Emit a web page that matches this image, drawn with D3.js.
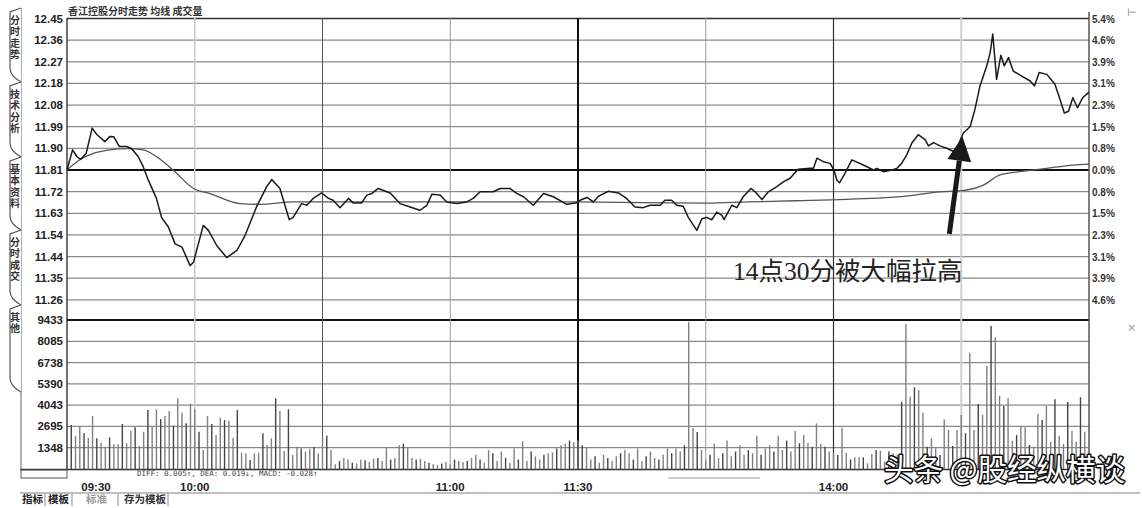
<!DOCTYPE html>
<html><head><meta charset="utf-8">
<script src="https://cdn.jsdelivr.net/npm/d3@7"></script>
<style>body{margin:0;background:#fff}svg{display:block}</style>
</head><body><svg id="c" width="1142" height="508"></svg>
<script>
// ---------- data ----------
const title = "香江控股分时走势 均线 成交量";
const prevClose = 11.81;
const priceTimes = [0,1.3,2.3,3.2,4.5,5.9,7,8.9,10.1,11,12.3,14,15.2,16.7,17.9,19.1,21,22.2,23.8,25.4,27,28.9,29.7,32,33.2,35.2,37.5,39.9,41.8,44.5,46.9,48.1,50,52.2,53.1,55.1,56.3,57.8,59.8,61.4,
62.5,64.1,66.1,67.2,69.2,70.4,71.6,73.1,75.9,78.2,80.6,82.9,84.5,85.7,87.6,89.2,91.5,93.9,95.4,97,100.1,101.7,104,105.6,107.2,109.5,111.9,114.2,117.4,119.7,
120.5,122.1,123.6,124.8,127.1,129.5,131.4,133.4,135.3,136.9,139.3,140.4,142,143.2,144.7,145.9,147.9,149.1,150.2,151.4,152.6,153.8,154.3,156.1,157.3,158.8,160.6,161.6,163.2,164.7,166.7,168.2,169.8,171.7,174.5,175.3,176.1,177.6,179.2,180.1,180.8,181.4,182.7,184.3,187,189.4,190.2,191.7,193.7,194.9,196,197.2,198.4,199.9,201.5,202.3,203.5,205,206.6,208.2,209.3,210.5,212.1,213.2,214.4,216,216.8,217.4,218.3,219.3,220.1,221.1,222.2,224.2,226.2,227.2,228.3,230.1,232,233.2,234.2,235.2,236.2,237.3,238.5,240];
const priceValues = [11.81,11.895,11.867,11.855,11.88,11.987,11.96,11.93,11.952,11.95,11.909,11.909,11.90,11.867,11.824,11.767,11.69,11.61,11.569,11.498,11.484,11.406,11.42,11.576,11.555,11.49,11.44,11.47,11.533,11.654,11.74,11.77,11.732,11.60,11.61,11.668,11.661,11.69,11.713,11.69,
11.682,11.651,11.69,11.671,11.671,11.704,11.711,11.732,11.713,11.668,11.654,11.64,11.661,11.708,11.704,11.675,11.668,11.675,11.69,11.718,11.718,11.732,11.732,11.711,11.697,11.661,11.711,11.697,11.665,11.672,
11.682,11.694,11.675,11.699,11.72,11.713,11.69,11.654,11.651,11.661,11.661,11.682,11.682,11.661,11.657,11.61,11.555,11.604,11.61,11.60,11.632,11.618,11.60,11.661,11.651,11.697,11.732,11.718,11.685,11.718,11.74,11.76,11.775,11.813,11.817,11.817,11.86,11.845,11.838,11.81,11.767,11.756,11.796,11.853,11.831,11.81,11.817,11.803,11.81,11.817,11.838,11.874,11.924,11.959,11.938,11.912,11.926,11.912,11.902,11.888,11.916,11.966,11.994,12.065,12.165,12.25,12.307,12.385,12.193,12.295,12.25,12.285,12.228,12.207,12.186,12.165,12.222,12.214,12.172,12.108,12.051,12.058,12.115,12.073,12.115,12.139];
const avgTimes = [0,3,6.2,10.1,14,17.9,21,24.9,29.7,33.6,40.6,45.3,53.1,61,120,150,160,171,183,197,205,209.7,215.2,219.1,223.8,230,236.3,240];
const avgValues = [11.81,11.853,11.88,11.895,11.90,11.895,11.867,11.81,11.732,11.71,11.668,11.665,11.675,11.675,11.675,11.67,11.675,11.68,11.686,11.70,11.718,11.722,11.746,11.789,11.803,11.817,11.831,11.835];
// per-minute volume, minutes 1..240
const volumes = [2785,2090,2720,2260,1980,3355,1940,1665,1410,2005,
1560,1560,2850,1625,2425,2640,1455,2360,3735,2720,
3780,3165,3355,3670,2740,4475,3565,2890,4150,3780,
2360,1200,3355,2850,2150,3250,3100,3060,1980,3735,
1030,990,570,990,1030,2260,1520,1940,4475,3670,
1140,3780,885,1410,
1300,1100,1250,1400,1000,2000,2100,1200,
300,500,700,600,400,350,600,550,450,650,700,500,
1400,600,700,1500,1600,1400,
700,600,650,500,400,300,250,350,450,300,
600,500,450,500,700,900,600,400,1200,1000,
500,1100,700,400,1300,600,1750,500,1100,800,
600,900,1000,1050,1300,1500,1600,1800,1700,1800,
1500,1400,600,800,400,900,700,500,800,1000,
1200,1000,600,1300,500,800,1100,700,600,900,
1300,1000,1300,1100,1500,9300,2600,2350,1200,600,
900,1600,700,1000,1800,800,1100,1500,900,1200,
1000,2100,900,1300,1500,1100,2100,1200,1800,1100,2400,
1625,2150,1665,1410,2890,1580,1410,1100,1000,885,
2615,1030,610,740,740,740,360,950,1200,1160,
465,1100,990,900,4260,9180,4580,5170,5000,3565,
1410,1940,1310,885,3145,2470,1455,2470,3420,2260,
7365,2470,4115,3420,6520,9050,8340,4640,3990,4475,
1790,2150,2720,2640,1520,1410,3480,3100,3990,1730,
4410,2090,1580,4240,2425,1730,4540,2360,1500];
const priceTickLabels = ["12.45","12.36","12.27","12.18","12.08","11.99","11.90","11.81","11.72","11.63","11.54","11.44","11.35","11.26"];
const pctTickLabels = ["5.4%","4.6%","3.9%","3.1%","2.3%","1.5%","0.8%","0.0%","0.8%","1.5%","2.3%","3.1%","3.9%","4.6%"];
const volTickLabels = [9433,8085,6738,5390,4043,2695,1348];
const timeTickMinutes = [0,30,90,120,180];
const timeTickLabels = ["09:30","10:00","11:00","11:30","14:00"];
const gridMinutes = [30,60,90,120,150,180,210];
const tabLabels = ["分时走势","技术分析","基本资料","分时成交","其他"];
const annotation = "14点30分被大幅拉高";
const macdText = "DIFF: 0.005↑, DEA: 0.019↓, MACD: -0.028↑";
const watermark = "头条 @股经纵横谈";

// ---------- scales ----------
const svg = d3.select("#c");
const L = 67, R = 1089;
const x = d3.scaleLinear().domain([0,240]).range([L,R]);
const maxUp = 12.45 - prevClose;
const yP = d3.scaleLinear().domain([prevClose - maxUp, prevClose + maxUp]).range([321.5,18.5]);
const yV = d3.scaleLinear().domain([0,9433]).range([469,320]);
const priceLevels = priceTickLabels.map((d,i)=> prevClose + (7-i)*maxUp/7);

const boldFont = "Arial, 'Liberation Sans', sans-serif";

// ---------- grid ----------
const g = svg.append("g");
g.selectAll("line.hp").data(priceLevels).join("line")
  .attr("x1",L).attr("x2",R).attr("y1",d=>yP(d)).attr("y2",d=>yP(d))
  .attr("stroke",(d,i)=> i===7 ? "#111" : (i===0?"#333":"#8a8a8a"))
  .attr("stroke-width",(d,i)=> i===7 ? 2 : 1.3);
g.selectAll("line.hv").data(volTickLabels).join("line")
  .attr("x1",L).attr("x2",R).attr("y1",d=>yV(d)).attr("y2",d=>yV(d))
  .attr("stroke",(d,i)=> i===0 ? "#111" : "#8a8a8a")
  .attr("stroke-width",(d,i)=> i===0 ? 2 : 1.3);
const vStyle = {30:["#c8c8c8",1.5],60:["#555",1],90:["#999",1],120:["#111",2],150:["#999",1],180:["#333",1.2],210:["#cfcfcf",2]};
g.selectAll("line.v").data(gridMinutes).join("line")
  .attr("x1",d=>x(d)).attr("x2",d=>x(d)).attr("y1",18).attr("y2",469)
  .attr("stroke",d=>vStyle[d][0]).attr("stroke-width",d=>vStyle[d][1]);
g.append("line").attr("x1",L).attr("x2",L).attr("y1",18).attr("y2",470).attr("stroke","#222").attr("stroke-width",1.3);
g.append("line").attr("x1",R).attr("x2",R).attr("y1",12).attr("y2",470).attr("stroke","#555").attr("stroke-width",1.5);
g.append("line").attr("x1",20).attr("x2",R).attr("y1",469.5).attr("y2",469.5).attr("stroke","#333").attr("stroke-width",1.5);

// ---------- volume bars ----------
svg.append("g").selectAll("line").data(volumes).join("line")
  .attr("x1",(d,i)=>x(i+1)).attr("x2",(d,i)=>x(i+1))
  .attr("y1",yV(0)).attr("y2",d=>yV(d))
  .attr("stroke",(d,i)=> i%3===0 ? "#444" : "#808080").attr("stroke-width",1.4);

// ---------- lines ----------
const avgData = avgTimes.map((t,i)=>[t,avgValues[i]]);
const priceData = priceTimes.map((t,i)=>[t,priceValues[i]]);
svg.append("path").datum(avgData)
  .attr("d", d3.line().x(d=>x(d[0])).y(d=>yP(d[1])).curve(d3.curveMonotoneX))
  .attr("fill","none").attr("stroke","#555").attr("stroke-width",1.3);
svg.append("path").datum(priceData)
  .attr("d", d3.line().x(d=>x(d[0])).y(d=>yP(d[1])))
  .attr("fill","none").attr("stroke","#1a1a1a").attr("stroke-width",1.5).attr("stroke-linejoin","round");

// ---------- axis labels ----------
svg.append("g").selectAll("text").data(priceTickLabels).join("text")
  .attr("x",63).attr("y",(d,i)=>yP(priceLevels[i])+4).attr("text-anchor","end")
  .attr("font-family",boldFont).attr("font-weight","bold").attr("font-size",11.5).attr("fill","#222").text(d=>d);
svg.append("g").selectAll("text").data(pctTickLabels).join("text")
  .attr("x",1092).attr("y",(d,i)=>yP(priceLevels[i])+4)
  .attr("font-family",boldFont).attr("font-weight","bold").attr("font-size",10).attr("fill","#333").text(d=>d);
svg.append("g").selectAll("text").data(volTickLabels).join("text")
  .attr("x",63).attr("y",d=>yV(d)+4).attr("text-anchor","end")
  .attr("font-family",boldFont).attr("font-weight","bold").attr("font-size",11.5).attr("fill","#222").text(d=>d);
svg.append("g").selectAll("text").data(timeTickLabels).join("text")
  .attr("x",(d,i)=> i===0 ? x(timeTickMinutes[i])+29 : x(timeTickMinutes[i]))
  .attr("y",491).attr("text-anchor","middle")
  .attr("font-family",boldFont).attr("font-weight","bold").attr("font-size",11.5).attr("fill","#222").text(d=>d);

svg.append("text").attr("x",68).attr("y",15).attr("font-family","'Noto Sans CJK SC',sans-serif")
  .attr("font-weight","bold").attr("font-size",10).attr("fill","#333").text(title);

svg.append("text").attr("x",137).attr("y",476).attr("font-family","'DejaVu Sans Mono',monospace")
  .attr("font-size",7.5).attr("fill","#444").text(macdText);

// ---------- left tabs ----------
const tabs = [[8,82],[82,157],[157,230],[230,305],[305,392]];
const tg = svg.append("g");
tg.append("line").attr("x1",21).attr("x2",21).attr("y1",8).attr("y2",470).attr("stroke","#666").attr("stroke-width",1);
tabs.forEach((t,i)=>{
  const [a,b]=t;
  tg.append("path").attr("d",`M21,${a} L10,${a+4} L10,${b-14} Q10,${b-6} 21,${b}`)
    .attr("fill","#fff").attr("stroke","#555").attr("stroke-width",1.2);
  tg.append("text").attr("x",15).attr("y",a+7)
    .attr("writing-mode","tb").style("glyph-orientation-vertical","0")
    .attr("letter-spacing",1.5)
    .attr("font-family","'Noto Sans CJK SC',sans-serif").attr("font-weight","bold")
    .attr("font-size",10).attr("fill","#333").text(tabLabels[i]);
});

// bottom controls
const bg = svg.append("g");
bg.append("rect").attr("x",21).attr("y",470).attr("width",46).attr("height",8).attr("fill","none").attr("stroke","#555");
bg.append("line").attr("x1",20).attr("x2",1140).attr("y1",493).attr("y2",493).attr("stroke","#aaa").attr("stroke-width",1.5);
bg.append("line").attr("x1",668).attr("x2",760).attr("y1",478).attr("y2",478).attr("stroke","#999").attr("stroke-width",1.2);
const btns = [["指标",22,"#222"],["模板",48,"#222"],["标准",86,"#999"],["存为模板",124,"#333"]];
bg.selectAll("text").data(btns).join("text").attr("x",d=>d[1]).attr("y",503)
  .attr("font-family","'Noto Sans CJK SC',sans-serif").attr("font-weight","bold").attr("font-size",10.5)
  .attr("fill",d=>d[2]).text(d=>d[0]);
[[45,494,506],[72,494,506],[118,494,506],[168,494,506]].forEach(s=>{
  bg.append("line").attr("x1",s[0]).attr("x2",s[0]).attr("y1",s[1]).attr("y2",s[2]).attr("stroke","#888");
});

svg.append("text").attr("x",1127).attr("y",16).attr("font-size",11).attr("fill","#888").attr("font-family","DejaVu Sans").text("⊢");
svg.append("text").attr("x",1127).attr("y",331).attr("font-size",11).attr("fill","#999").attr("font-family","DejaVu Sans").text("×");

// ---------- annotation ----------
const tip = [x(210.3), yP(11.95)], base = [x(207.2), yP(11.54)];
const ang = Math.atan2(tip[1]-base[1], tip[0]-base[0]);
const headLen = 24, headW = 12;
const hb = [tip[0]-headLen*Math.cos(ang), tip[1]-headLen*Math.sin(ang)];
svg.append("line").attr("x1",base[0]).attr("y1",base[1]).attr("x2",hb[0]).attr("y2",hb[1])
  .attr("stroke","#1a1a1a").attr("stroke-width",5);
svg.append("path").attr("d",`M${tip[0]},${tip[1]} L${hb[0]+headW*Math.sin(ang)},${hb[1]-headW*Math.cos(ang)} L${hb[0]-headW*Math.sin(ang)},${hb[1]+headW*Math.cos(ang)} Z`)
  .attr("fill","#1a1a1a");
svg.append("text").attr("x",733).attr("y",280).attr("font-family","'Liberation Serif','Noto Sans CJK SC',serif")
  .attr("font-size",25.5).attr("fill","#222").text(annotation);

svg.append("text").attr("x",884).attr("y",480).attr("font-family","'Noto Sans CJK SC',sans-serif")
  .attr("font-size",29.5).attr("fill","#fff").attr("stroke","#111").attr("stroke-width",3)
  .attr("paint-order","stroke").attr("stroke-linejoin","round").text(watermark);
</script></body></html>
